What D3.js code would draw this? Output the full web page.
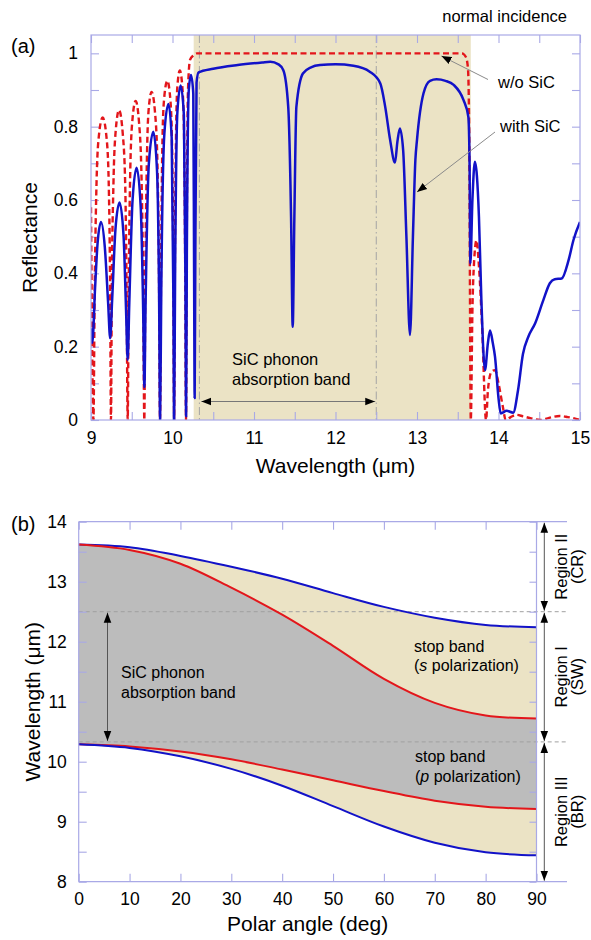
<!DOCTYPE html>
<html>
<head>
<meta charset="utf-8">
<script src="https://cdn.jsdelivr.net/npm/d3@7"></script>
<style>
  html, body { margin: 0; padding: 0; background: #fff; }
  svg { display: block; font-family: "Liberation Sans", Arial, Helvetica, sans-serif; }
</style>
</head>
<body>
<svg id="chart" width="591" height="940"></svg>
<script>
// ---------- (a) reflectance spectra at normal incidence ----------
const wlWithSiC = [9.00, 9.016, 9.05, 9.08, 9.123, 9.17, 9.21, 9.235, 9.26, 9.30, 9.35, 9.40, 9.43, 9.45, 9.47, 9.51, 9.56, 9.61, 9.64, 9.655, 9.67, 9.71, 9.765, 9.81, 9.835, 9.848, 9.862, 9.90, 9.95, 9.99, 10.01, 10.02, 10.032, 10.06, 10.10, 10.14, 10.158, 10.167, 10.176, 10.20, 10.227, 10.255, 10.265, 10.272, 10.28, 10.295, 10.32, 10.5, 10.8, 11.1, 11.2, 11.30, 11.36, 11.42, 11.455, 11.475, 11.495, 11.52, 11.60, 11.70, 11.81, 12.0, 12.22, 12.42, 12.55, 12.61, 12.67, 12.73, 12.76, 12.79, 12.83, 12.87, 12.914, 12.95, 12.98, 13.0, 13.08, 13.16, 13.24, 13.35, 13.45, 13.57, 13.63, 13.645, 13.655, 13.68, 13.71, 13.76, 13.79, 13.834, 13.87, 13.896, 13.93, 13.957, 14.0, 14.027, 14.10, 14.18, 14.24, 14.30, 14.366, 14.45, 14.55, 14.63, 14.69, 14.775, 14.86, 14.92, 15.0];
const reflWithSiC = [0.25, 0.21, 0.36, 0.48, 0.54, 0.47, 0.32, 0.223, 0.33, 0.52, 0.593, 0.50, 0.30, 0.164, 0.32, 0.60, 0.688, 0.58, 0.30, 0.09, 0.32, 0.70, 0.786, 0.68, 0.35, 0.0, 0.35, 0.78, 0.862, 0.77, 0.35, 0.0, 0.40, 0.84, 0.912, 0.83, 0.40, 0.01, 0.45, 0.90, 0.941, 0.89, 0.40, 0.06, 0.45, 0.92, 0.948, 0.958, 0.968, 0.975, 0.977, 0.970, 0.954, 0.854, 0.55, 0.254, 0.55, 0.854, 0.945, 0.962, 0.968, 0.970, 0.966, 0.950, 0.918, 0.854, 0.764, 0.702, 0.760, 0.795, 0.736, 0.50, 0.232, 0.50, 0.709, 0.764, 0.891, 0.925, 0.929, 0.925, 0.914, 0.873, 0.827, 0.70, 0.427, 0.60, 0.704, 0.554, 0.327, 0.136, 0.21, 0.244, 0.21, 0.173, 0.06, 0.018, 0.025, 0.02, 0.082, 0.18, 0.227, 0.264, 0.327, 0.373, 0.384, 0.386, 0.436, 0.491, 0.54];

const wlNoSiC = [9.00, 9.012, 9.03, 9.045, 9.065, 9.09, 9.143, 9.195, 9.22, 9.235, 9.245, 9.255, 9.275, 9.30, 9.344, 9.39, 9.42, 9.437, 9.45, 9.463, 9.48, 9.505, 9.548, 9.59, 9.62, 9.64, 9.654, 9.667, 9.685, 9.705, 9.744, 9.785, 9.815, 9.834, 9.847, 9.86, 9.875, 9.895, 9.936, 9.975, 9.995, 10.01, 10.02, 10.03, 10.045, 10.06, 10.09, 10.12, 10.14, 10.155, 10.166, 10.175, 10.19, 10.215, 10.26, 10.30, 11.5, 13.55, 13.60, 13.625, 13.64, 13.66, 13.68, 13.70, 13.73, 13.76, 13.80, 13.847, 13.87, 13.91, 13.957, 14.00, 14.05, 14.09, 14.15, 14.22, 14.30, 14.39, 14.51, 14.62, 14.75, 14.85, 14.92, 15.0];
const reflNoSiC = [0.58, 0.25, 0.0, 0.35, 0.62, 0.76, 0.825, 0.76, 0.62, 0.35, 0.0, 0.35, 0.64, 0.78, 0.845, 0.78, 0.64, 0.35, 0.0, 0.37, 0.66, 0.81, 0.870, 0.81, 0.66, 0.37, 0.0, 0.40, 0.70, 0.84, 0.895, 0.84, 0.70, 0.40, 0.0, 0.42, 0.74, 0.87, 0.925, 0.87, 0.74, 0.42, 0.0, 0.45, 0.80, 0.91, 0.953, 0.91, 0.80, 0.45, 0.0, 0.50, 0.90, 0.982, 0.995, 1.0, 1.0, 1.0, 0.99, 0.96, 0.80, 0.0, 0.30, 0.43, 0.49, 0.42, 0.25, 0.0, 0.08, 0.13, 0.136, 0.10, 0.04, 0.0, 0.008, 0.014, 0.01, 0.005, 0.0, 0.006, 0.011, 0.008, 0.005, 0.0];

const stopBandA = [10.26, 13.66];       // shaded photonic stop band (µm)
const phononBand = [10.33, 12.5];       // SiC phonon absorption band edges (µm)
const xTicksA = [9, 10, 11, 12, 13, 14, 15];
const yTicksA = [0, 0.2, 0.4, 0.6, 0.8, 1];

// ---------- (b) band edges versus polar angle ----------
const angles = [0, 10, 20, 30, 40, 50, 60, 70, 80, 90];
const sUpper = [13.62, 13.575, 13.43, 13.25, 13.05, 12.81, 12.58, 12.40, 12.28, 12.24];  // blue, upper
const sLower = [13.62, 13.53, 13.30, 12.90, 12.45, 11.93, 11.38, 10.98, 10.77, 10.72];   // red, upper
const pUpper = [10.29, 10.255, 10.17, 10.04, 9.87, 9.69, 9.51, 9.35, 9.25, 9.21];        // red, lower
const pLower = [10.29, 10.23, 10.09, 9.88, 9.60, 9.26, 8.92, 8.65, 8.49, 8.44];          // blue, lower
const xTicksB = [0, 10, 20, 30, 40, 50, 60, 70, 80, 90];
const yTicksB = [8, 9, 10, 11, 12, 13, 14];
const regionEdges = [14, 12.5, 10.33, 8];
const regionNames = [["Region II", "(CR)"], ["Region I", "(SW)"], ["Region III", "(BR)"]];

// ---------- styles ----------
const AXIS = "#a9a9e6", BEIGE = "#ebe3c5", GREY = "#bcbcbc";
const BLUE = "#1212c8", RED = "#e3161b";
const FONT_TICK = 17.5, FONT_TITLE = 21, FONT_NOTE = 16.5;

const svg = d3.select("#chart");
const defs = svg.append("defs");
defs.append("marker").attr("id", "head").attr("viewBox", "0 0 10 10")
  .attr("refX", 10).attr("refY", 5).attr("markerWidth", 10).attr("markerHeight", 10)
  .attr("markerUnits", "userSpaceOnUse").attr("orient", "auto-start-reverse")
  .append("path").attr("d", "M0,1.2 L10,5 L0,8.8 Z").attr("fill", "#000");

function styleAxis(g, fontSize) {
  g.select(".domain").remove();
  g.selectAll(".tick line").attr("stroke", AXIS).attr("stroke-width", 1.1);
  g.selectAll(".tick text").attr("fill", "#000").attr("font-size", fontSize)
    .attr("font-family", "'Liberation Sans', Arial, sans-serif");
}
function fmtNum(v) { return d3.format("~g")(v); }

// ======================= panel (a) =======================
const xa = d3.scaleLinear().domain([9, 15]).range([91, 580]);
const ya = d3.scaleLinear().domain([0, 1.05]).range([420, 35]);
const A = { l: xa.range()[0], r: xa.range()[1], t: ya.range()[1], b: ya.range()[0] };

defs.append("clipPath").attr("id", "clipA").append("rect")
  .attr("x", A.l).attr("y", A.t).attr("width", A.r - A.l).attr("height", A.b - A.t);

const ga = svg.append("g");
ga.append("rect").attr("x", xa(stopBandA[0])).attr("y", A.t)
  .attr("width", xa(stopBandA[1]) - xa(stopBandA[0])).attr("height", A.b - A.t).attr("fill", BEIGE);

phononBand.forEach(v => ga.append("line")
  .attr("x1", xa(v)).attr("x2", xa(v)).attr("y1", A.t).attr("y2", A.b)
  .attr("stroke", "#a4a4a4").attr("stroke-width", 1).attr("stroke-dasharray", "8,3,1.5,3"));

// ticks: minor every 0.5 µm / 0.1, labels on the majors
const xTickAll = d3.range(9, 15.001, 0.5).map(v => +v.toFixed(2));
const yTickAll = d3.range(0, 1.0001, 0.1).map(v => +v.toFixed(2));
const isMajX = v => xTicksA.includes(v), isMajY = v => yTicksA.some(t => Math.abs(t - v) < 1e-9);

ga.append("g").attr("transform", `translate(0,${A.b})`)
  .call(d3.axisBottom(xa).tickValues(xTickAll).tickSize(-8).tickPadding(12)
    .tickFormat(v => isMajX(v) ? fmtNum(v) : ""))
  .call(g => styleAxis(g, FONT_TICK));
ga.append("g").attr("transform", `translate(0,${A.t})`)
  .call(d3.axisTop(xa).tickValues(xTickAll).tickSize(-8).tickFormat(""))
  .call(g => styleAxis(g, FONT_TICK));
ga.append("g").attr("transform", `translate(${A.l},0)`)
  .call(d3.axisLeft(ya).tickValues(yTickAll).tickSize(-8).tickPadding(13)
    .tickFormat(v => isMajY(v) ? fmtNum(v) : ""))
  .call(g => styleAxis(g, FONT_TICK));
ga.append("g").attr("transform", `translate(${A.r},0)`)
  .call(d3.axisRight(ya).tickValues(yTickAll).tickSize(-8).tickFormat(""))
  .call(g => styleAxis(g, FONT_TICK));

const lineA = d3.line().x(d => xa(d[0])).y(d => ya(d[1])).curve(d3.curveMonotoneX);
const lines = ga.append("g").attr("clip-path", "url(#clipA)");
lines.append("path").datum(d3.zip(wlNoSiC, reflNoSiC)).attr("d", lineA)
  .attr("fill", "none").attr("stroke", RED).attr("stroke-width", 2.4).attr("stroke-dasharray", "6,3.5");
lines.append("path").datum(d3.zip(wlWithSiC, reflWithSiC)).attr("d", lineA)
  .attr("fill", "none").attr("stroke", BLUE).attr("stroke-width", 2.5).attr("stroke-linejoin", "round");

ga.append("rect").attr("x", A.l).attr("y", A.t).attr("width", A.r - A.l).attr("height", A.b - A.t)
  .attr("fill", "none").attr("stroke", AXIS).attr("stroke-width", 1.2);

// annotations
ga.append("text").attr("x", 11).attr("y", 53).attr("font-size", 20).text("(a)");
ga.append("text").attr("x", 567).attr("y", 21.5).attr("text-anchor", "end").attr("font-size", 16.5).text("normal incidence");
ga.append("text").attr("transform", `translate(37,${(A.t + A.b) / 2 + 10}) rotate(-90)`)
  .attr("text-anchor", "middle").attr("font-size", FONT_TITLE).text("Reflectance");
ga.append("text").attr("x", (A.l + A.r) / 2).attr("y", 473).attr("text-anchor", "middle")
  .attr("font-size", FONT_TITLE).text("Wavelength (\u03bcm)");

ga.append("line").attr("x1", 488).attr("y1", 79.5).attr("x2", xa(13.3)).attr("y2", 56)
  .attr("stroke", "#8a8a8a").attr("stroke-width", 1).attr("marker-end", "url(#head)");
ga.append("text").attr("x", 498).attr("y", 87.5).attr("font-size", FONT_NOTE).text("w/o SiC");
ga.append("line").attr("x1", 495).attr("y1", 132).attr("x2", 417).attr("y2", 192)
  .attr("stroke", "#8a8a8a").attr("stroke-width", 1).attr("marker-end", "url(#head)");
ga.append("text").attr("x", 500).attr("y", 131.5).attr("font-size", FONT_NOTE).text("with SiC");

ga.append("text").attr("x", 232).attr("y", 365).attr("font-size", FONT_NOTE).text("SiC phonon");
ga.append("text").attr("x", 232).attr("y", 385).attr("font-size", FONT_NOTE).text("absorption band");
ga.append("line").attr("x1", xa(phononBand[0]) + 2).attr("x2", xa(phononBand[1]) - 1)
  .attr("y1", 401.5).attr("y2", 401.5).attr("stroke", "#777").attr("stroke-width", 1)
  .attr("marker-start", "url(#head)").attr("marker-end", "url(#head)");

// ======================= panel (b) =======================
const xb = d3.scaleLinear().domain([0, 90]).range([78.7, 536.5]);
const yb = d3.scaleLinear().domain([8, 14]).range([881.7, 521.7]);
const B = { l: xb.range()[0], r: xb.range()[1], t: yb.range()[1], b: yb.range()[0], ext: 567 };
const gb = svg.append("g");

const rows = angles.map((a, i) => ({ a, su: sUpper[i], sl: sLower[i], pu: pUpper[i], pl: pLower[i] }));
const curveB = d3.curveCatmullRom.alpha(0.5);
gb.append("path").datum(rows).attr("fill", BEIGE)
  .attr("d", d3.area().x(d => xb(d.a)).y0(d => yb(d.pl)).y1(d => yb(d.su)).curve(curveB));
gb.append("path").datum(rows).attr("fill", GREY)
  .attr("d", d3.area().x(d => xb(d.a)).y0(d => yb(d.pu)).y1(d => yb(d.sl)).curve(curveB));

// region boundaries (dashed)
[phononBand[1], phononBand[0]].forEach(v => gb.append("line")
  .attr("x1", B.l).attr("x2", B.ext).attr("y1", yb(v)).attr("y2", yb(v))
  .attr("stroke", "#a0a0a0").attr("stroke-width", 1).attr("stroke-dasharray", "4,3"));

const yTickAllB = d3.range(8, 14.001, 0.5).map(v => +v.toFixed(2));
gb.append("g").attr("transform", `translate(0,${B.b})`)
  .call(d3.axisBottom(xb).tickValues(xTicksB).tickSize(-8).tickPadding(11).tickFormat(fmtNum))
  .call(g => styleAxis(g, FONT_TICK));
gb.append("g").attr("transform", `translate(0,${B.t})`)
  .call(d3.axisTop(xb).tickValues(xTicksB).tickSize(-8).tickFormat(""))
  .call(g => styleAxis(g, FONT_TICK));
gb.append("g").attr("transform", `translate(${B.l},0)`)
  .call(d3.axisLeft(yb).tickValues(yTickAllB).tickSize(-8).tickPadding(12)
    .tickFormat(v => yTicksB.includes(v) ? fmtNum(v) : ""))
  .call(g => styleAxis(g, FONT_TICK));
gb.append("g").attr("transform", `translate(${B.r},0)`)
  .call(d3.axisRight(yb).tickValues(yTickAllB).tickSize(-7).tickFormat(""))
  .call(g => styleAxis(g, FONT_TICK));

const lineB = key => d3.line().x(d => xb(d.a)).y(d => yb(d[key])).curve(curveB);
[["su", BLUE], ["sl", RED], ["pu", RED], ["pl", BLUE]].forEach(([k, c]) =>
  gb.append("path").datum(rows).attr("d", lineB(k)).attr("fill", "none")
    .attr("stroke", c).attr("stroke-width", 2));

// frame: left/right borders, top/bottom lines run out to the region scale
gb.append("line").attr("x1", B.l).attr("x2", B.l).attr("y1", B.t).attr("y2", B.b).attr("stroke", AXIS).attr("stroke-width", 1.2);
gb.append("line").attr("x1", B.r).attr("x2", B.r).attr("y1", B.t).attr("y2", B.b).attr("stroke", AXIS).attr("stroke-width", 1.2);
gb.append("line").attr("x1", B.l).attr("x2", B.ext).attr("y1", B.t).attr("y2", B.t).attr("stroke", AXIS).attr("stroke-width", 1.2);
gb.append("line").attr("x1", B.l).attr("x2", B.ext).attr("y1", B.b).attr("y2", B.b).attr("stroke", AXIS).attr("stroke-width", 1.2);

// region arrows and labels
const ax = 544.3;
regionNames.forEach((names, i) => {
  const y0 = yb(regionEdges[i]), y1 = yb(regionEdges[i + 1]);
  gb.append("line").attr("x1", ax).attr("x2", ax).attr("y1", y0 + 1).attr("y2", y1 - 1)
    .attr("stroke", "#555").attr("stroke-width", 1)
    .attr("marker-start", "url(#head)").attr("marker-end", "url(#head)");
  const cy = (y0 + y1) / 2;
  gb.append("text").attr("transform", `translate(567,${cy}) rotate(-90)`)
    .attr("text-anchor", "middle").attr("font-size", 16.5).text(names[0]);
  gb.append("text").attr("transform", `translate(583,${cy}) rotate(-90)`)
    .attr("text-anchor", "middle").attr("font-size", 16.5).text(names[1]);
});

// phonon band arrow and notes
gb.append("line").attr("x1", 107.5).attr("x2", 107.5).attr("y1", yb(phononBand[1]) + 1).attr("y2", yb(phononBand[0]) - 1)
  .attr("stroke", "#555").attr("stroke-width", 1)
  .attr("marker-start", "url(#head)").attr("marker-end", "url(#head)");
gb.append("text").attr("x", 121).attr("y", 678).attr("font-size", 16).text("SiC phonon");
gb.append("text").attr("x", 121).attr("y", 698).attr("font-size", 16).text("absorption band");

const sNote = gb.append("text").attr("font-size", 16);
sNote.append("tspan").attr("x", 414).attr("y", 652).text("stop band");
const sLine = sNote.append("tspan").attr("x", 414).attr("y", 671);
sLine.append("tspan").text("(");
sLine.append("tspan").attr("font-style", "italic").text("s");
sLine.append("tspan").text(" polarization)");

const pNote = gb.append("text").attr("font-size", 16);
pNote.append("tspan").attr("x", 415).attr("y", 762).text("stop band");
const pLine = pNote.append("tspan").attr("x", 415).attr("y", 782);
pLine.append("tspan").text("(");
pLine.append("tspan").attr("font-style", "italic").text("p");
pLine.append("tspan").text(" polarization)");

gb.append("text").attr("x", 11).attr("y", 531).attr("font-size", 20).text("(b)");
gb.append("text").attr("transform", `translate(40,${(B.t + B.b) / 2}) rotate(-90)`)
  .attr("text-anchor", "middle").attr("font-size", FONT_TITLE).text("Wavelength (\u03bcm)");
gb.append("text").attr("x", (B.l + B.r) / 2).attr("y", 931).attr("text-anchor", "middle")
  .attr("font-size", FONT_TITLE).text("Polar angle (deg)");
</script>
</body>
</html>
